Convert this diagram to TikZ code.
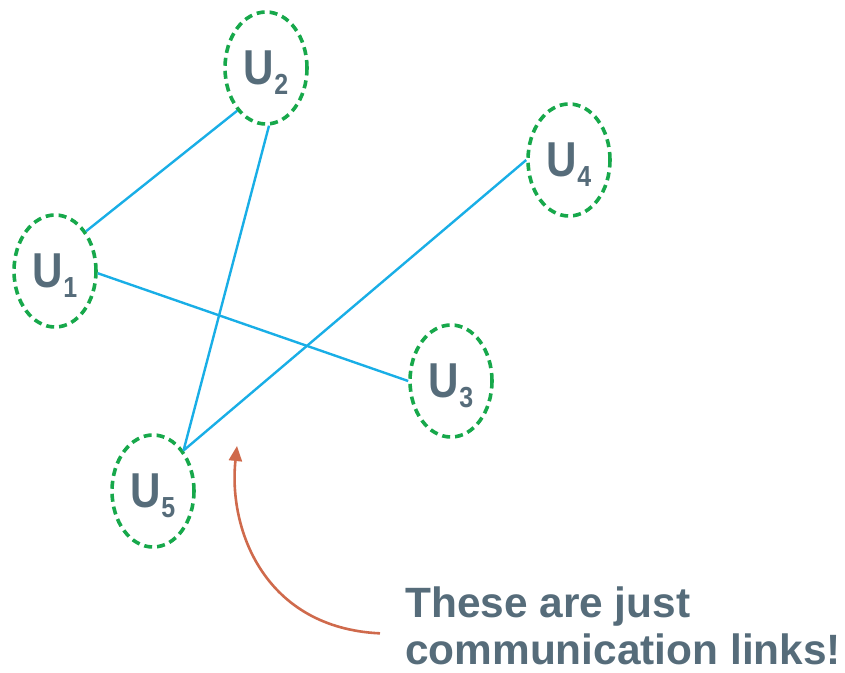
\documentclass[tikz,border=0pt]{standalone}
\usepackage{fontspec}
\setmainfont{Liberation Sans}
\newfontfamily\narrowfont[FakeStretch=0.86]{Liberation Sans}
\usetikzlibrary{shapes.geometric,arrows.meta}
\definecolor{txtgray}{RGB}{86,108,122}
\definecolor{dgreen}{RGB}{23,168,75}
\definecolor{lblue}{RGB}{25,174,230}
\definecolor{arrred}{RGB}{207,106,76}
\newcommand{\ulab}[1]{{\narrowfont\bfseries\fontsize{49}{49}\selectfont U\raisebox{-10pt}[0pt][0pt]{\fontsize{29}{29}\selectfont #1}}}
\tikzset{
  user/.style={ellipse, draw=dgreen, line width=3.6pt, dash pattern=on 8pt off 5pt,
    minimum width=82pt, minimum height=112pt, inner sep=0pt, text=txtgray},
  link/.style={draw=lblue, line width=2.4pt},
  note/.style={text=txtgray, font=\bfseries\fontsize{42.4}{47}\selectfont, align=left, inner sep=0pt},
  pointer/.style={draw=arrred, line width=2.6pt, -{Triangle[length=15pt,width=13pt]}}
}
\begin{document}
\begin{tikzpicture}[x=1pt,y=-1pt]
\useasboundingbox (0,0) rectangle (845,672);
\node[user] (U1) at (55,271) {\ulab{1}};
\node[user] (U2) at (266,68) {\ulab{2}};
\node[user] (U3) at (451,381) {\ulab{3}};
\node[user] (U4) at (569,160) {\ulab{4}};
\node[user] (U5) at (153,491) {\ulab{5}};
\draw[link] (U1.52) -- (U2.236);
\draw[link] (U1.-3) -- (U3.180);
\draw[link] (U2.273) -- (U5.53);
\draw[link] (U5.53) -- (U4.180);
\node[note, anchor=base west] (T) at (405,664) {These are just\\communication links!};
\coordinate (tip) at (237,446);
\draw[pointer] ([xshift=-25pt,yshift=-8pt]T.west) .. controls (265,628) and (228,530) .. (tip);
\end{tikzpicture}
\end{document}
